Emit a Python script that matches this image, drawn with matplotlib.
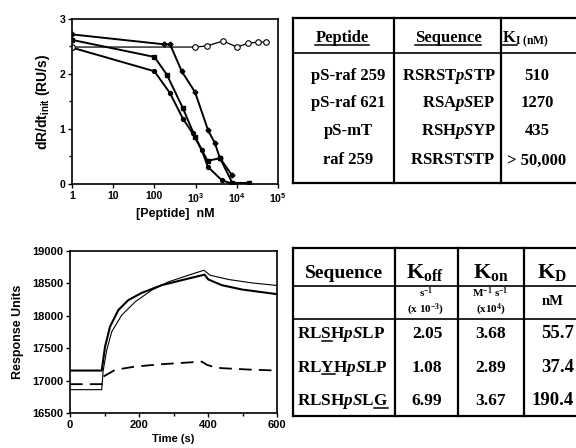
import numpy as np
import matplotlib
matplotlib.use("Agg")
from matplotlib import pyplot as plt
from matplotlib.lines import Line2D

plt.rcParams['font.family'] = 'Liberation Sans'
plt.rcParams['font.weight'] = 'bold'
plt.rcParams['axes.labelweight'] = 'bold'
plt.rcParams['mathtext.fontset'] = 'custom'
plt.rcParams['mathtext.rm'] = 'Liberation Serif:bold'
plt.rcParams['mathtext.bf'] = 'Liberation Serif:bold'
plt.rcParams['mathtext.it'] = 'Liberation Serif:italic:bold'
plt.rcParams['mathtext.sf'] = 'Liberation Sans:bold'

# ---- inhibition curves (top left) ----
conc_621 = [1, 170, 240, 460, 970, 2000, 2950, 3900, 7500]
rate_621 = [2.72, 2.54, 2.54, 2.05, 1.67, 0.98, 0.74, 0.47, 0.17]
conc_259 = [1, 100, 200, 490, 980, 1950, 3900, 7800, 20000]
rate_259 = [2.62, 2.31, 1.99, 1.38, 0.85, 0.42, 0.47, 0.02, 0.02]
conc_mt = [1, 100, 240, 490, 850, 1400, 2000, 4300, 8000]
rate_mt = [2.48, 2.05, 1.65, 1.19, 0.92, 0.62, 0.31, 0.07, 0.0]
conc_raf = [1, 980, 1860, 4700, 10000, 19000, 33000, 51000]
rate_raf = [2.49, 2.49, 2.51, 2.6, 2.49, 2.56, 2.58, 2.58]
x_ticks = [1, 10, 100, 1e3, 1e4, 1e5]
x_ticklabels = ['1', '10', '100', r'$\mathsf{10^{3}}$', r'$\mathsf{10^{4}}$', r'$\mathsf{10^{5}}$']

# ---- sensorgrams (bottom left) ----
t_a = [0, 92, 101.6, 116, 140, 169, 208, 266, 324, 390, 401, 440, 498, 600]
ru_a = [17155, 17155, 17524, 17832, 18088, 18242, 18354, 18473, 18550, 18635,
        18560, 18473, 18406, 18334]
t_b = [0, 92, 96, 106.5, 121, 150, 189, 237, 285, 343, 388, 406, 460, 527, 600]
ru_b = [16860, 16860, 17150, 17473, 17755, 18011, 18216, 18396, 18523, 18626,
        18703, 18626, 18560, 18508, 18468]
t_c = [0, 92, 97, 131, 189, 266, 382, 397, 420, 440, 520, 600]
ru_c = [16945, 16945, 17063, 17166, 17217, 17253, 17293, 17243, 17205, 17192,
        17170, 17155]

# ---- tables ----
peptides = ['pS-raf 259', 'pS-raf 621', 'pS-mT', 'raf 259']
peptide_seqs = [[r'\mathrm{RSRST}', r'\mathit{pS}', r'\mathrm{TP}'],
                [r'\mathrm{RSA}', r'\mathit{pS}', r'\mathrm{EP}'],
                [r'\mathrm{RSH}', r'\mathit{pS}', r'\mathrm{YP}'],
                [r'\mathrm{RSRST}', r'\mathit{S}', r'\mathrm{TP}']]
ki_vals = ['510', '1270', '435', '> 50,000']

kin_seqs = [[r'\mathrm{RL}', r'\mathrm{S}', r'\mathrm{H}', r'\mathit{pS}', r'\mathrm{LP}'],
            [r'\mathrm{RL}', r'\mathrm{Y}', r'\mathrm{H}', r'\mathit{pS}', r'\mathrm{LP}'],
            [r'\mathrm{RLSH}', r'\mathit{pS}', r'\mathrm{L}', r'\mathrm{G}']]
kin_underline = [1, 1, 3]
koff = ['2.05', '1.08', '6.99']
kon = ['3.68', '2.89', '3.67']
kd = ['55.7', '37.4', '190.4']

W, H = 576, 448
fig = plt.figure(figsize=(W / 100, H / 100), dpi=100)
renderer = fig.canvas.get_renderer()


def px_axes(l, t, r, b):
    return fig.add_axes([l / W, 1 - b / H, (r - l) / W, (b - t) / H])


def width(s, size, **kw):
    tmp = fig.text(0, 0, s, fontsize=size, **kw)
    w = tmp.get_window_extent(renderer).width
    tmp.remove()
    return w


def ttext(x, y, parts, size, ha='center', ul=(), math=True):
    # x, y in px from top-left, y = baseline
    kw = {} if math else dict(family='Liberation Serif', weight='bold')
    if math:
        s = '$' + ''.join(parts) + '$'
    else:
        s = ''.join(parts)
    w = width(s, size, **kw)
    x0 = {'center': x - w / 2, 'right': x - w, 'left': x}[ha]
    fig.text(x0 / W, 1 - y / H, s, fontsize=size, va='baseline', ha='left', **kw)
    for i in ul:
        if math:
            a = width('$' + ''.join(parts[:i]) + '$', size) if i > 0 else 0
            b = width('$' + ''.join(parts[:i + 1]) + '$', size)
        else:
            a, b = 0, w
        fig.add_artist(Line2D([(x0 + a) / W, (x0 + b) / W], [1 - (y + 2.5) / H] * 2,
                              color='black', lw=1.1))


def hline(x0, x1, y, lw=1.6):
    fig.add_artist(Line2D([x0 / W, x1 / W], [1 - y / H] * 2, color='black', lw=lw))


def vline(x, y0, y1, lw=1.6):
    fig.add_artist(Line2D([x / W] * 2, [1 - y0 / H, 1 - y1 / H], color='black', lw=lw))


# top-left chart
ax1 = px_axes(72, 19, 278, 184)
ax1.plot(conc_621, rate_621, '-D', color='black', lw=1.4, ms=2.5)
ax1.plot(conc_259, rate_259, '-s', color='black', lw=1.4, ms=3)
ax1.plot(conc_mt, rate_mt, '-o', color='black', lw=1.4, ms=2.8)
ax1.plot(conc_raf, rate_raf, '-o', color='black', lw=0.9, ms=4, mfc='white', mew=0.8)
ax1.set_xscale('log')
ax1.set_xlim(1, 1e5)
ax1.set_ylim(0, 3)
ax1.set_xticks(x_ticks)
ax1.set_xticklabels(x_ticklabels)
ax1.xaxis.set_minor_locator(matplotlib.ticker.NullLocator())
ax1.set_yticks([0, 1, 2, 3])
ax1.set_yticks([0.5, 1.5, 2.5], minor=True)
ax1.tick_params(labelsize=7.5, length=3, width=1, direction='out', pad=2)
ax1.tick_params(which='minor', length=2, width=1)
ax1.set_xlabel('[Peptide]  nM', fontsize=9, labelpad=2)
ax1.set_ylabel(r'dR/dt$_{\mathsf{init}}$ (RU/s)', fontsize=10, labelpad=5)
for s in ax1.spines.values():
    s.set_linewidth(1.2)

# bottom-left chart
ax2 = px_axes(70, 251, 277, 413)
ax2.plot(t_a, ru_a, '-', color='black', lw=1.5)
ax2.plot(t_b, ru_b, '-', color='black', lw=0.8)
ax2.plot(t_c, ru_c, '--', color='black', lw=1.3, dashes=(7, 4))
ax2.set_xlim(0, 600)
ax2.set_ylim(16500, 19000)
ax2.set_xticks([0, 200, 400, 600])
ax2.set_xticks([100, 300, 500], minor=True)
ax2.set_yticks(np.arange(16500, 19001, 500))
ax2.tick_params(labelsize=8, length=3, width=1, direction='out', pad=2)
ax2.tick_params(which='minor', length=2, width=1)
ax2.set_xlabel('Time (s)', fontsize=8, labelpad=3)
ax2.set_ylabel('Response Units', fontsize=9, labelpad=6)
for s in ax2.spines.values():
    s.set_linewidth(1.2)

# top table
T_L, T_R, T_T, T_B = 293, 580, 18, 183
hline(T_L, T_R, T_T)
hline(T_L, T_R, T_B)
hline(T_L, T_R, 53.5, lw=1.2)
vline(T_L, T_T, T_B)
vline(394, T_T, T_B)
vline(500.5, T_T, T_B)
ttext(342, 42.5, ['Peptide'], 12, ul=[0], math=False)
ttext(448, 42.5, ['Sequence'], 12, ul=[0], math=False)
ttext(502, 42.5, [r'\mathrm{K}', r'_{\mathrm{I\ (nM)}}'], 12, ha='left', ul=[0])
row_y = [80, 107, 135, 164.5]
for i in range(4):
    ttext(348, row_y[i], [peptides[i]], 12, math=False)
    ttext(496, row_y[i], peptide_seqs[i], 12, ha='right')
    if i < 3:
        ttext(537, row_y[i], [ki_vals[i]], 12, math=False)
    else:
        ttext(507, row_y[i], [ki_vals[i]], 12, ha='left', math=False)

# bottom table
B_L, B_R, B_T, B_B = 293, 580, 248.5, 416
hline(B_L, B_R, B_T)
hline(B_L, B_R, B_B)
hline(B_L, B_R, 286, lw=1.2)
hline(B_L, B_R, 318.5, lw=1.2)
vline(B_L, B_T, B_B)
vline(394.5, B_T, B_B)
vline(457.5, B_T, B_B)
vline(523.5, B_T, B_B)
ttext(344, 277.5, ['Sequence'], 14, math=False)
ttext(425, 277.5, [r'\mathrm{K}_{\mathrm{off}}'], 16)
ttext(490.5, 277.5, [r'\mathrm{K}_{\mathrm{on}}'], 16)
ttext(552, 277.5, [r'\mathrm{K}_{\mathrm{D}}'], 16)
ttext(426, 296.5, [r'\mathrm{s}^{\mathrm{-1}}'], 8)
ttext(426, 312.5, [r'\mathrm{(x\ 10}^{\mathrm{-3}}\mathrm{)}'], 8)
ttext(490.5, 296.5, [r'\mathrm{M}^{\mathrm{-1}}\ \mathrm{s}^{\mathrm{-1}}'], 8)
ttext(490.5, 312.5, [r'\mathrm{(x10}^{\mathrm{4}}\mathrm{)}'], 8)
ttext(553, 305, ['nM'], 10.5, math=False)
krow_y = [338, 371.5, 405]
for i in range(3):
    ttext(297, krow_y[i], kin_seqs[i], 12.3, ha='left', ul=[kin_underline[i]])
    ttext(427, krow_y[i], [koff[i]], 12.5, math=False)
    ttext(491, krow_y[i], [kon[i]], 12.5, math=False)
    ttext(574, krow_y[i], [kd[i]], 13.5, ha='right', math=False)

fig.savefig('out.png', dpi=100)
